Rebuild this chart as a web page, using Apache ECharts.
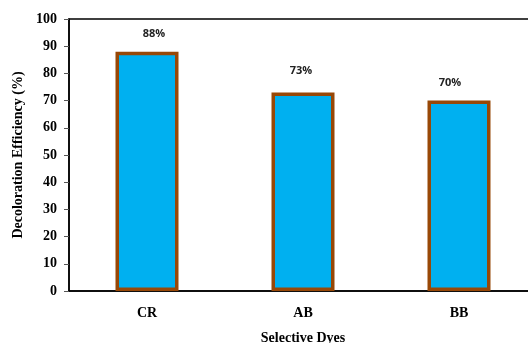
<!DOCTYPE html>
<html>
<head>
<meta charset="utf-8">
<script src="https://cdn.jsdelivr.net/npm/echarts@6/dist/echarts.min.js"></script>
<style>
  html, body { margin: 0; padding: 0; background: #fff; }
  #chart { width: 528px; height: 343px; }
</style>
</head>
<body>
<div id="chart"></div>
<script>
// Decoloration efficiency per dye
const dyes = ['CR', 'AB', 'BB'];
const efficiency = [88, 73, 70];
const yTicks = [0, 10, 20, 30, 40, 50, 60, 70, 80, 90, 100];

// hand-placed label nudges (px)
const labelShift = [[7, -7], [-2, -11], [-9, -7]];

const serif = '"Liberation Serif", "DejaVu Serif", serif';

const chart = echarts.init(document.getElementById('chart'));
chart.setOption({
  animation: false,
  grid: {
    left: 69, top: 19, bottom: 52, right: -9,
    outerBoundsMode: 'none',
    containLabel: false,
    show: true, borderColor: '#000', borderWidth: 1.5, backgroundColor: 'transparent'
  },
  xAxis: {
    type: 'category',
    data: dyes,
    name: 'Selective Dyes',
    nameLocation: 'middle',
    nameGap: 40,
    nameTextStyle: { fontFamily: serif, fontWeight: 'bold', fontSize: 14, color: '#000' },
    axisLine: { lineStyle: { color: '#000', width: 1.5 } },
    axisTick: { length: 5, lineStyle: { color: '#555' } },
    axisLabel: { fontFamily: serif, fontWeight: 'bold', fontSize: 14, color: '#000', margin: 15 }
  },
  yAxis: {
    type: 'value',
    min: yTicks[0],
    max: yTicks[yTicks.length - 1],
    interval: 10,
    name: 'Decoloration Efficiency (%)',
    nameLocation: 'middle',
    nameGap: 44,
    nameTextStyle: { fontFamily: serif, fontWeight: 'bold', fontSize: 14, color: '#000' },
    axisLine: { show: true, lineStyle: { color: '#000', width: 1.5 } },
    axisTick: { show: true, length: 5, lineStyle: { color: '#555' } },
    splitLine: { show: false },
    axisLabel: { fontFamily: serif, fontWeight: 'bold', fontSize: 14, color: '#000', margin: 12 }
  },
  series: [{
    type: 'bar',
    barWidth: 63,
    data: efficiency.map((v, i) => ({
      value: v,
      label: { offset: labelShift[i] }
    })),
    itemStyle: { color: '#00B0F0', borderColor: '#984807', borderWidth: 3.5 },
    label: {
      show: true,
      position: 'top',
      formatter: p => p.value + '%',
      fontFamily: '"Open Sans", "Liberation Sans", sans-serif',
      fontWeight: 'bold',
      fontSize: 11,
      color: '#222'
    }
  }]
});
</script>
</body>
</html>
